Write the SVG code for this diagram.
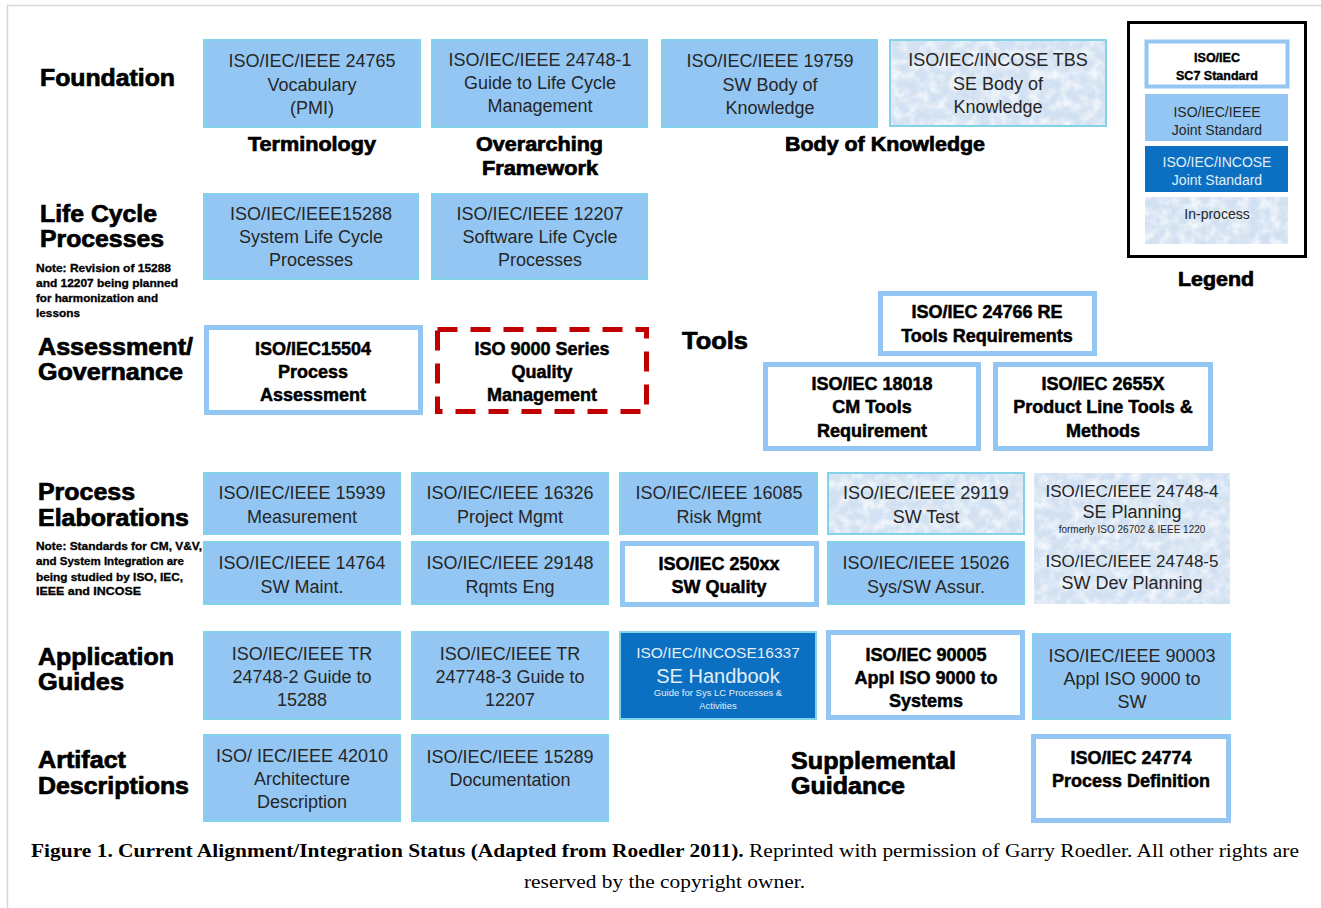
<svg xmlns="http://www.w3.org/2000/svg" width="1321" height="908" viewBox="0 0 1321 908">
<defs>
<filter id="grain" x="0" y="0" width="100%" height="100%">
<feTurbulence type="fractalNoise" baseFrequency="0.08" numOctaves="4" seed="5" result="n"/>
<feColorMatrix in="n" type="matrix" values="0 0 0 0 0.62  0 0 0 0 0.75  0 0 0 0 0.91  2.0 0 0 0 -0.85" result="c"/>
<feComposite in="c" in2="SourceGraphic" operator="in"/>
</filter>
<filter id="grainw" x="0" y="0" width="100%" height="100%">
<feTurbulence type="fractalNoise" baseFrequency="0.1" numOctaves="3" seed="11" result="n"/>
<feColorMatrix in="n" type="matrix" values="0 0 0 0 1  0 0 0 0 1  0 0 0 0 1  1.6 0 0 0 -0.6" result="c"/>
<feComposite in="c" in2="SourceGraphic" operator="in"/>
</filter>
<style>
.jb{fill:#94c6f4;stroke:#82d2ea;stroke-width:2}
.wb{fill:#fff;stroke:#94c6f4;stroke-width:5}
.db{fill:#0b70c2;stroke:#82d2ea;stroke-width:2}
.ipb{fill:#d3e1f1}
.ipc{fill:#d3e1f1;stroke:#82d2ea;stroke-width:2}
.t{font-family:"Liberation Sans",Arial,sans-serif;font-size:18px;fill:#262626;text-anchor:middle}
.tw{font-family:"Liberation Sans",Arial,sans-serif;fill:#e4eef8;text-anchor:middle}
.tb{font-family:"Liberation Sans",Arial,sans-serif;font-size:18px;font-weight:bold;fill:#000;stroke:#000;stroke-width:0.5;text-anchor:middle}
.h{font-family:"Liberation Sans",Arial,sans-serif;font-size:23px;font-weight:bold;fill:#000;stroke:#000;stroke-width:0.7}
.n{font-family:"Liberation Sans",Arial,sans-serif;font-size:10.5px;font-weight:bold;fill:#000;stroke:#000;stroke-width:0.3}
.cap{font-family:"Liberation Serif","Times New Roman",serif;font-size:19.5px;fill:#000}
</style>
</defs>
<rect width="1321" height="908" fill="#fff"/>
<path d="M7.5 908 V5.5 H1321" fill="none" stroke="#d6d6d6" stroke-width="1.5"/>

<g id="row-labels">
<text class="h" x="40" y="86" textLength="135" lengthAdjust="spacingAndGlyphs">Foundation</text>
<text class="h" x="40" y="222" textLength="117" lengthAdjust="spacingAndGlyphs">Life Cycle</text>
<text class="h" x="40" y="247" textLength="124" lengthAdjust="spacingAndGlyphs">Processes</text>
<text class="n" x="36" y="272" textLength="135" lengthAdjust="spacingAndGlyphs">Note: Revision of 15288</text>
<text class="n" x="36" y="287" textLength="142" lengthAdjust="spacingAndGlyphs">and 12207 being planned</text>
<text class="n" x="36" y="302" textLength="122" lengthAdjust="spacingAndGlyphs">for harmonization and</text>
<text class="n" x="36" y="317" textLength="44" lengthAdjust="spacingAndGlyphs">lessons</text>
<text class="h" x="38" y="355" textLength="155" lengthAdjust="spacingAndGlyphs">Assessment/</text>
<text class="h" x="38" y="380" textLength="145" lengthAdjust="spacingAndGlyphs">Governance</text>
<text class="h" x="38" y="500" textLength="97" lengthAdjust="spacingAndGlyphs">Process</text>
<text class="h" x="38" y="526" textLength="151" lengthAdjust="spacingAndGlyphs">Elaborations</text>
<text class="n" x="36" y="550" textLength="166" lengthAdjust="spacingAndGlyphs">Note: Standards for CM, V&amp;V,</text>
<text class="n" x="36" y="565" textLength="148" lengthAdjust="spacingAndGlyphs">and System Integration are</text>
<text class="n" x="36" y="581" textLength="147" lengthAdjust="spacingAndGlyphs">being studied by ISO, IEC,</text>
<text class="n" x="36" y="595" textLength="105" lengthAdjust="spacingAndGlyphs">IEEE and INCOSE</text>
<text class="h" x="38" y="665" textLength="136" lengthAdjust="spacingAndGlyphs">Application</text>
<text class="h" x="38" y="690" textLength="86" lengthAdjust="spacingAndGlyphs">Guides</text>
<text class="h" x="38" y="768" textLength="88" lengthAdjust="spacingAndGlyphs">Artifact</text>
<text class="h" x="38" y="794" textLength="151" lengthAdjust="spacingAndGlyphs">Descriptions</text>
</g>

<g id="group-labels">
<text class="h" x="248" y="151" textLength="128" lengthAdjust="spacingAndGlyphs" style="font-size:20px">Terminology</text>
<text class="h" x="476" y="151" textLength="127" lengthAdjust="spacingAndGlyphs" style="font-size:20px">Overarching</text>
<text class="h" x="482" y="175" textLength="116" lengthAdjust="spacingAndGlyphs" style="font-size:20px">Framework</text>
<text class="h" x="785" y="151" textLength="200" lengthAdjust="spacingAndGlyphs" style="font-size:20px">Body of Knowledge</text>
<text class="h" x="682" y="349" textLength="66" lengthAdjust="spacingAndGlyphs">Tools</text>
<text class="h" x="791" y="769" textLength="165" lengthAdjust="spacingAndGlyphs">Supplemental</text>
<text class="h" x="791" y="794" textLength="114" lengthAdjust="spacingAndGlyphs">Guidance</text>
</g>

<g id="n24765"><rect class="jb" x="204" y="40" width="216" height="87"/>
<text class="t" x="312" y="67">ISO/IEC/IEEE 24765</text><text class="t" x="312" y="91">Vocabulary</text><text class="t" x="312" y="114">(PMI)</text></g>
<g id="n24748-1"><rect class="jb" x="432" y="40" width="215" height="87"/>
<text class="t" x="540" y="66">ISO/IEC/IEEE 24748-1</text><text class="t" x="540" y="89">Guide to Life Cycle</text><text class="t" x="540" y="112">Management</text></g>
<g id="n19759"><rect class="jb" x="662" y="40" width="215" height="87"/>
<text class="t" x="770" y="67">ISO/IEC/IEEE 19759</text><text class="t" x="770" y="91">SW Body of</text><text class="t" x="770" y="114">Knowledge</text></g>
<g id="nTBS"><rect class="ipc" x="890" y="40" width="216" height="86"/><rect x="891" y="41" width="214" height="84" filter="url(#grain)"/><rect x="891" y="41" width="214" height="84" filter="url(#grainw)"/>
<text class="t" x="998" y="66">ISO/IEC/INCOSE TBS</text><text class="t" x="998" y="90">SE Body of</text><text class="t" x="998" y="113">Knowledge</text></g>

<g id="n15288"><rect class="jb" x="204" y="194" width="214" height="85"/>
<text class="t" x="311" y="220">ISO/IEC/IEEE15288</text><text class="t" x="311" y="243">System Life Cycle</text><text class="t" x="311" y="266">Processes</text></g>
<g id="n12207"><rect class="jb" x="432" y="194" width="215" height="85"/>
<text class="t" x="540" y="220">ISO/IEC/IEEE 12207</text><text class="t" x="540" y="243">Software Life Cycle</text><text class="t" x="540" y="266">Processes</text></g>

<g id="n15504"><rect class="wb" x="206.5" y="327.5" width="214" height="85"/>
<text class="tb" x="313" y="355">ISO/IEC15504</text><text class="tb" x="313" y="378">Process</text><text class="tb" x="313" y="401">Assessment</text></g>
<g id="n9000"><rect x="437.5" y="329.5" width="209" height="82" fill="#fff" stroke="#c00000" stroke-width="5" stroke-dasharray="20 13"/>
<text class="tb" x="542" y="355">ISO 9000 Series</text><text class="tb" x="542" y="378">Quality</text><text class="tb" x="542" y="401">Management</text></g>
<g id="n24766"><rect class="wb" x="880.5" y="293.5" width="214" height="60"/>
<text class="tb" x="987" y="318">ISO/IEC 24766 RE</text><text class="tb" x="987" y="342">Tools Requirements</text></g>
<g id="n18018"><rect class="wb" x="765.5" y="364.5" width="213" height="84"/>
<text class="tb" x="872" y="390">ISO/IEC 18018</text><text class="tb" x="872" y="413">CM Tools</text><text class="tb" x="872" y="437">Requirement</text></g>
<g id="n2655X"><rect class="wb" x="995.5" y="364.5" width="215" height="84"/>
<text class="tb" x="1103" y="390">ISO/IEC 2655X</text><text class="tb" x="1103" y="413">Product Line Tools &amp;</text><text class="tb" x="1103" y="437">Methods</text></g>

<g id="legend">
<rect x="1128.5" y="22.5" width="177" height="234" fill="#fff" stroke="#000" stroke-width="3"/>
<rect x="1146.5" y="41.5" width="141" height="45" fill="#fff" stroke="#94c6f4" stroke-width="4"/>
<text class="tb" x="1217" y="62" style="font-size:12.5px;stroke-width:0.4">ISO/IEC</text>
<text class="tb" x="1217" y="80" style="font-size:12.5px;stroke-width:0.4">SC7 Standard</text>
<rect x="1145" y="94" width="143" height="47" fill="#94c6f4"/>
<text class="t" x="1217" y="117" style="font-size:14px">ISO/IEC/IEEE</text>
<text class="t" x="1217" y="135" style="font-size:14px">Joint Standard</text>
<rect x="1145" y="146" width="143" height="46" fill="#0b70c2"/>
<text class="tw" x="1217" y="167" style="font-size:14px">ISO/IEC/INCOSE</text>
<text class="tw" x="1217" y="185" style="font-size:14px">Joint Standard</text>
<rect class="ipb" x="1145" y="197" width="143" height="47"/><rect x="1145" y="197" width="143" height="47" filter="url(#grain)"/><rect x="1145" y="197" width="143" height="47" filter="url(#grainw)"/>
<text class="t" x="1217" y="219" style="font-size:14px">In-process</text>
<text class="h" x="1178" y="286" textLength="76" lengthAdjust="spacingAndGlyphs" style="font-size:20px">Legend</text>
</g>

<g id="n15939"><rect class="jb" x="204" y="473" width="196" height="61"/>
<text class="t" x="302" y="499">ISO/IEC/IEEE 15939</text><text class="t" x="302" y="523">Measurement</text></g>
<g id="n16326"><rect class="jb" x="412" y="473" width="196" height="61"/>
<text class="t" x="510" y="499">ISO/IEC/IEEE 16326</text><text class="t" x="510" y="523">Project Mgmt</text></g>
<g id="n16085"><rect class="jb" x="620" y="473" width="197" height="61"/>
<text class="t" x="719" y="499">ISO/IEC/IEEE 16085</text><text class="t" x="719" y="523">Risk Mgmt</text></g>
<g id="n29119"><rect class="ipc" x="828" y="473" width="196" height="61"/><rect x="829" y="474" width="194" height="59" filter="url(#grain)"/><rect x="829" y="474" width="194" height="59" filter="url(#grainw)"/>
<text class="t" x="926" y="499">ISO/IEC/IEEE 29119</text><text class="t" x="926" y="523">SW Test</text></g>
<g id="n24748-4-5"><rect class="ipb" x="1034" y="473" width="196" height="131"/><rect x="1034" y="473" width="196" height="131" filter="url(#grain)"/><rect x="1034" y="473" width="196" height="131" filter="url(#grainw)"/>
<text class="t" x="1132" y="497" style="font-size:17px">ISO/IEC/IEEE 24748-4</text>
<text class="t" x="1132" y="518">SE Planning</text>
<text class="t" x="1132" y="533" style="font-size:10px">formerly ISO 26702 &amp; IEEE 1220</text>
<text class="t" x="1132" y="567" style="font-size:17px">ISO/IEC/IEEE 24748-5</text>
<text class="t" x="1132" y="589">SW Dev Planning</text></g>
<g id="n14764"><rect class="jb" x="204" y="542" width="196" height="62"/>
<text class="t" x="302" y="569">ISO/IEC/IEEE 14764</text><text class="t" x="302" y="593">SW Maint.</text></g>
<g id="n29148"><rect class="jb" x="412" y="542" width="196" height="62"/>
<text class="t" x="510" y="569">ISO/IEC/IEEE 29148</text><text class="t" x="510" y="593">Rqmts Eng</text></g>
<g id="n250xx"><rect class="wb" x="622.5" y="543.5" width="194" height="61"/>
<text class="tb" x="719" y="570">ISO/IEC 250xx</text><text class="tb" x="719" y="593">SW Quality</text></g>
<g id="n15026"><rect class="jb" x="828" y="542" width="196" height="62"/>
<text class="t" x="926" y="569">ISO/IEC/IEEE 15026</text><text class="t" x="926" y="593">Sys/SW Assur.</text></g>

<g id="n24748-2"><rect class="jb" x="204" y="632" width="196" height="87"/>
<text class="t" x="302" y="660">ISO/IEC/IEEE TR</text><text class="t" x="302" y="683">24748-2 Guide to</text><text class="t" x="302" y="706">15288</text></g>
<g id="n24748-3"><rect class="jb" x="412" y="632" width="196" height="87"/>
<text class="t" x="510" y="660">ISO/IEC/IEEE TR</text><text class="t" x="510" y="683">247748-3 Guide to</text><text class="t" x="510" y="706">12207</text></g>
<g id="n16337"><rect class="db" x="620" y="632" width="196" height="87"/>
<text class="tw" x="718" y="658" style="font-size:15.5px">ISO/IEC/INCOSE16337</text>
<text class="tw" x="718" y="683" style="font-size:20px">SE Handbook</text>
<text class="tw" x="718" y="696" style="font-size:9.5px">Guide for Sys LC Processes &amp;</text>
<text class="tw" x="718" y="709" style="font-size:9.5px">Activities</text></g>
<g id="n90005"><rect class="wb" x="828.5" y="632.5" width="194" height="85"/>
<text class="tb" x="926" y="661">ISO/IEC 90005</text><text class="tb" x="926" y="684">Appl ISO 9000 to</text><text class="tb" x="926" y="707">Systems</text></g>
<g id="n90003"><rect class="jb" x="1033" y="634" width="197" height="85"/>
<text class="t" x="1132" y="662">ISO/IEC/IEEE 90003</text><text class="t" x="1132" y="685">Appl ISO 9000 to</text><text class="t" x="1132" y="708">SW</text></g>

<g id="n42010"><rect class="jb" x="204" y="735" width="196" height="86"/>
<text class="t" x="302" y="762">ISO/ IEC/IEEE 42010</text><text class="t" x="302" y="785">Architecture</text><text class="t" x="302" y="808">Description</text></g>
<g id="n15289"><rect class="jb" x="412" y="735" width="196" height="86"/>
<text class="t" x="510" y="763">ISO/IEC/IEEE 15289</text><text class="t" x="510" y="786">Documentation</text></g>
<g id="n24774"><rect class="wb" x="1033.5" y="736.5" width="195" height="84"/>
<text class="tb" x="1131" y="764">ISO/IEC 24774</text><text class="tb" x="1131" y="787">Process Definition</text></g>

<g id="connectors"></g>

<g id="caption">
<text class="cap" x="31" y="857" textLength="1268" lengthAdjust="spacingAndGlyphs"><tspan font-weight="bold">Figure 1. Current Alignment/Integration Status (Adapted from Roedler 2011).</tspan> Reprinted with permission of Garry Roedler. All other rights are</text>
<text class="cap" x="524" y="888" textLength="281" lengthAdjust="spacingAndGlyphs">reserved by the copyright owner.</text>
</g>
</svg>
